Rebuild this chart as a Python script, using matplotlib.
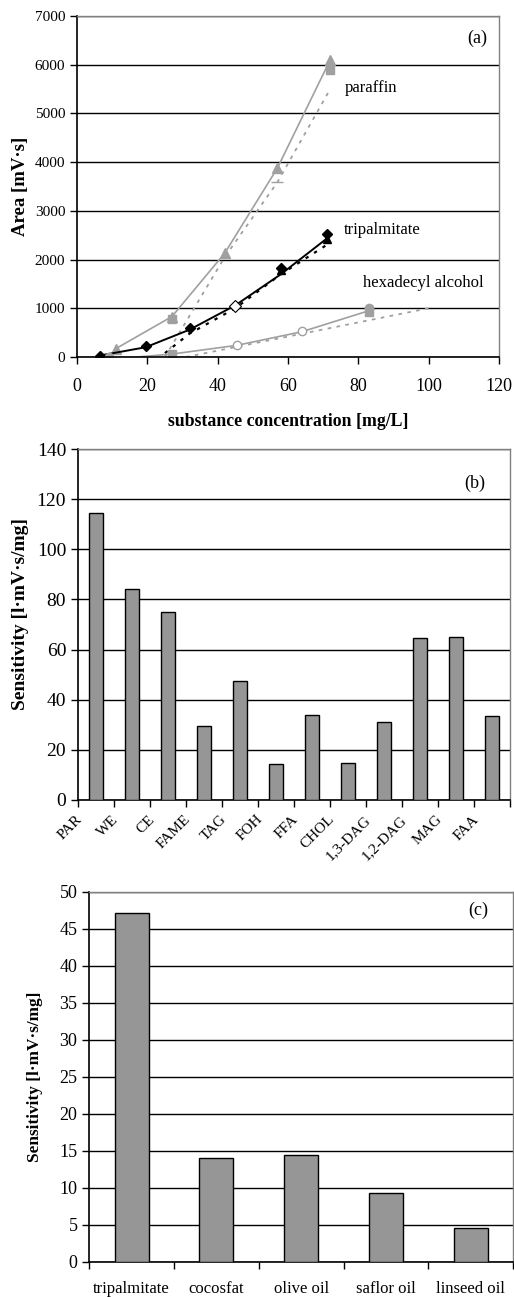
import matplotlib
matplotlib.use("Agg")
import matplotlib.pyplot as plt
import matplotlib.transforms as mtransforms
import numpy as np

plt.rcParams['font.family'] = ['Liberation Serif', 'DejaVu Serif']

# ---------------- data: panel (a) ----------------
par_x = [11, 27, 42, 57, 72]
par_y = [170, 830, 2130, 3880, 6100]
par_sq_x = [27, 72]
par_sq_y = [790, 5900]
par_dot_x = [25, 42, 57, 72]
par_dot_y = [0, 2050, 3590, 5500]

tri_x = [6.5, 19.5, 32, 58, 71]
tri_y = [30, 220, 590, 1830, 2520]
tri_open_x = [45]
tri_open_y = [1050]
tri_line_x = [6.5, 19.5, 32, 45, 58, 71]
tri_line_y = [30, 200, 560, 1060, 1700, 2430]
tri_tri_x = [58, 71]
tri_tri_y = [1780, 2420]
tri_dot_x = [25, 32, 45, 58, 71]
tri_dot_y = [80, 480, 1000, 1700, 2300]

hex_line_x = [17, 27, 45.5, 64, 83]
hex_line_y = [0, 60, 240, 520, 950]
hex_fill_x = [9, 83]
hex_fill_y = [10, 1000]
hex_open_x = [45.5, 64]
hex_open_y = [240, 540]
hex_sq_x = [27, 83]
hex_sq_y = [60, 920]
hex_dot_x = [31, 100]
hex_dot_y = [0, 1000]

# ---------------- data: panel (b) ----------------
b_labels = ['PAR', 'WE', 'CE', 'FAME', 'TAG', 'FOH', 'FFA', 'CHOL',
            '1,3-DAG', '1,2-DAG', 'MAG', 'FAA']
b_values = [114.4, 84.3, 74.9, 29.7, 47.3, 14.3, 33.9, 14.7, 31.3, 64.7, 65.1, 33.5]

# ---------------- data: panel (c) ----------------
c_labels = ['tripalmitate', 'cocosfat', 'olive oil', 'saflor oil', 'linseed oil']
c_values = [47.1, 14.0, 14.4, 9.3, 4.6]

W, H = 514, 1297
fig = plt.figure(figsize=(W / 100, H / 100), dpi=100)

def ax_px(left, right, top, bottom):
    return fig.add_axes([left / W, 1 - bottom / H, (right - left) / W, (bottom - top) / H])

GRAY = '#969696'
LGRAY = '#a0a0a0'

def style(ax, xfs, yfs):
    ax.set_axisbelow(True)
    ax.grid(axis='y', color='black', linewidth=1.0)
    for s in ['top', 'right']:
        ax.spines[s].set_color('#808080')
        ax.spines[s].set_linewidth(1.0)
    for s in ['left', 'bottom']:
        ax.spines[s].set_color('black')
        ax.spines[s].set_linewidth(1.2)
    ax.tick_params(axis='both', direction='out', length=5, width=1.0, colors='black')
    ax.tick_params(axis='x', labelsize=xfs)
    ax.tick_params(axis='y', labelsize=yfs)

# ---------------- panel (a) ----------------
ax = ax_px(77, 499, 16, 357)
style(ax, 13, 11)
ax.set_xlim(0, 120)
ax.set_ylim(0, 7000)
ax.set_xticks(np.arange(0, 121, 20))
ax.set_yticks(np.arange(0, 7001, 1000))
ax.tick_params(axis='x', pad=10)

ax.plot(par_dot_x, par_dot_y, color=LGRAY, linestyle=(0, (2, 3)), linewidth=1.3)
ax.plot(tri_dot_x, tri_dot_y, color='black', linestyle=(0, (1.5, 3)), linewidth=1.6)
ax.plot(hex_dot_x, hex_dot_y, color=LGRAY, linestyle=(0, (2, 3)), linewidth=1.3)

ax.plot(par_x, par_y, color=LGRAY, linewidth=1.2, marker='^', markersize=7,
        markerfacecolor=LGRAY, markeredgecolor=LGRAY)
ax.plot(par_sq_x, par_sq_y, linestyle='none', marker='s', markersize=6,
        markerfacecolor=LGRAY, markeredgecolor=LGRAY)
ax.plot([57], [3590], linestyle='none', marker='_', markersize=9, color=LGRAY)

ax.plot(tri_line_x, tri_line_y, color='black', linewidth=1.4)
ax.plot(tri_x, tri_y, linestyle='none', marker='D', markersize=5.5, color='black')
ax.plot(tri_tri_x, tri_tri_y, linestyle='none', marker='^', markersize=5.5, color='black')
ax.plot(tri_open_x, tri_open_y, linestyle='none', marker='D', markersize=6,
        markerfacecolor='white', markeredgecolor='black', markeredgewidth=0.8)

ax.plot(hex_line_x, hex_line_y, color=LGRAY, linewidth=1.2)
ax.plot(hex_fill_x, hex_fill_y, linestyle='none', marker='o', markersize=6,
        markerfacecolor=LGRAY, markeredgecolor=LGRAY)
ax.plot(hex_sq_x, hex_sq_y, linestyle='none', marker='s', markersize=5.5,
        markerfacecolor=LGRAY, markeredgecolor=LGRAY)
ax.plot(hex_open_x, hex_open_y, linestyle='none', marker='o', markersize=6,
        markerfacecolor='white', markeredgecolor=LGRAY)

ax.text(76, 5530, 'paraffin', fontsize=12, va='center', ha='left')
ax.text(76, 2600, 'tripalmitate', fontsize=12, va='center', ha='left')
ax.text(81.4, 1520, 'hexadecyl alcohol', fontsize=12, va='center', ha='left')
ax.text(0.948, 0.935, '(a)', transform=ax.transAxes, fontsize=13, ha='center', va='center')
ax.set_ylabel('Area [mV·s]', fontsize=13.5, fontweight='bold')
ax.yaxis.set_label_coords(-0.113, 0.5)
ax.set_xlabel('substance concentration [mg/L]', fontsize=12.8, fontweight='bold', labelpad=13)

# ---------------- panel (b) ----------------
ax = ax_px(78, 510, 449, 800)
style(ax, 11, 14)
n = len(b_labels)
pos = np.arange(n)
ax.bar(pos, b_values, width=0.4, color=GRAY, edgecolor='black', linewidth=1.0, zorder=3)
ax.set_xlim(-0.5, n - 0.5)
ax.set_ylim(0, 140)
ax.set_yticks(np.arange(0, 141, 20))
ax.set_xticks(np.arange(-0.5, n, 1.0), minor=True)
ax.set_xticks(pos)
ax.tick_params(axis='x', which='major', length=0)
ax.tick_params(axis='x', which='minor', direction='out', length=5, width=1.0)
offset = mtransforms.ScaledTranslation(-11 / 100, -8 / 100, fig.dpi_scale_trans)
ax.set_xticklabels(b_labels, rotation=45, ha='right', va='top', fontsize=11)
for lbl in ax.get_xticklabels():
    lbl.set_transform(lbl.get_transform() + offset)
ax.text(0.919, 0.903, '(b)', transform=ax.transAxes, fontsize=13, ha='center', va='center')
ax.set_ylabel('Sensitivity [l·mV·s/mg]', fontsize=14, fontweight='bold')
ax.yaxis.set_label_coords(-0.113, 0.53)

# ---------------- panel (c) ----------------
ax = ax_px(89.3, 513, 891.7, 1261.7)
style(ax, 12, 13)
n = len(c_labels)
pos = np.arange(n)
ax.bar(pos, c_values, width=0.4, color=GRAY, edgecolor='black', linewidth=1.0, zorder=3)
ax.set_xlim(-0.5, n - 0.5)
ax.set_ylim(0, 50)
ax.set_yticks(np.arange(0, 51, 5))
ax.set_xticks(np.arange(-0.5, n, 1.0), minor=True)
ax.set_xticks(pos)
ax.set_xticklabels(c_labels, fontsize=12)
ax.tick_params(axis='x', which='major', length=0, pad=14)
ax.tick_params(axis='x', which='minor', direction='out', length=5, width=1.0)
ax.text(0.917, 0.95, '(c)', transform=ax.transAxes, fontsize=13, ha='center', va='center')
ax.set_ylabel('Sensitivity [l·mV·s/mg]', fontsize=12.4, fontweight='bold')
ax.yaxis.set_label_coords(-0.109, 0.5)

fig.savefig('out.png', dpi=100)
